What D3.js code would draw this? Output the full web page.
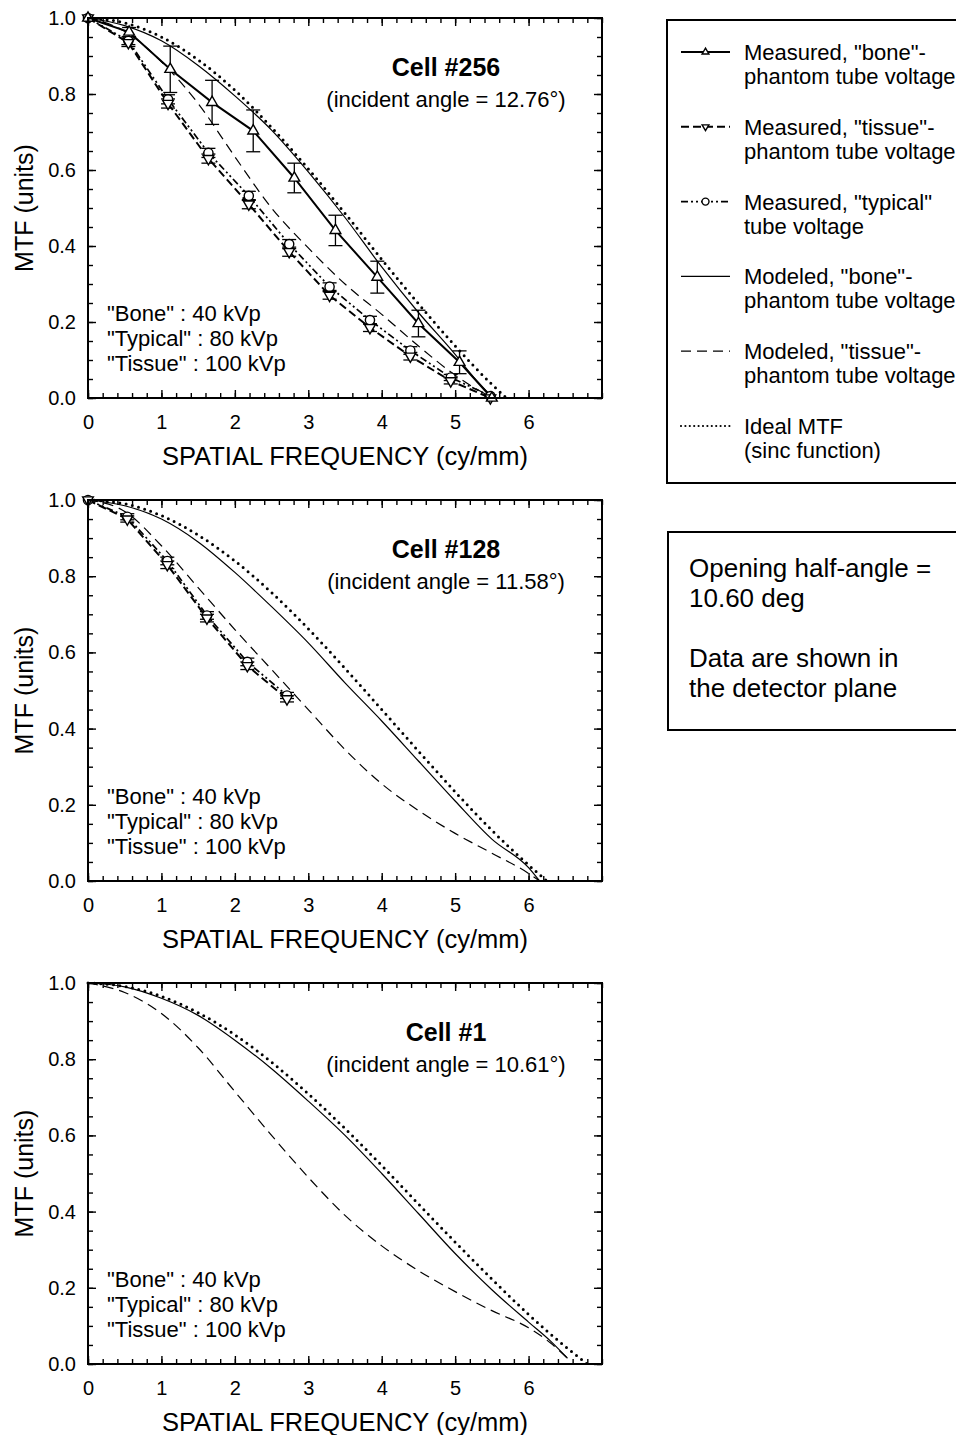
<!DOCTYPE html>
<html>
<head>
<meta charset="utf-8">
<script src="https://cdn.jsdelivr.net/npm/d3@7"></script>
<style>
  body { margin: 0; background: #fff; }
  text { font-family: "Liberation Sans", Arial, sans-serif; fill: #000; }
</style>
</head>
<body>
<svg width="956" height="1435"></svg>
<script>
// ---- Cell #256 ----
var freqBone256 = [0, 0.56, 1.12, 1.69, 2.25, 2.81, 3.37, 3.94, 4.50, 5.06, 5.50];
var mtfBone256 = [1.0, 0.963, 0.865, 0.778, 0.703, 0.579, 0.441, 0.318, 0.196, 0.094, 0.0];
var errBone256 = [0, 0.012, 0.061, 0.058, 0.055, 0.039, 0.040, 0.042, 0.035, 0.030, 0];
var freqMeas256 = [0, 0.55, 1.09, 1.64, 2.19, 2.74, 3.29, 3.84, 4.39, 4.94, 5.48];
var mtfTissue256 = [1.0, 0.935, 0.775, 0.630, 0.510, 0.385, 0.270, 0.185, 0.110, 0.045, 0.0];
var mtfTypical256 = [1.0, 0.940, 0.786, 0.645, 0.532, 0.405, 0.293, 0.205, 0.125, 0.054, 0.005];
var errMeas256 = [0, 0.010, 0.012, 0.012, 0.012, 0.012, 0.010, 0.010, 0.010, 0.008, 0];
var freqModel256 = [0, 0.5, 1, 1.5, 2, 2.5, 3, 3.5, 4, 4.5, 5, 5.25, 5.52];
var modelBone256 = [1, 0.98, 0.94, 0.875, 0.795, 0.705, 0.595, 0.475, 0.345, 0.225, 0.115, 0.055, 0.0];
var modelTissue256 = [1, 0.965, 0.885, 0.775, 0.635, 0.50, 0.395, 0.30, 0.22, 0.137, 0.06, 0.028, 0.0];
var freqIdeal256 = [0, 0.5, 1, 1.5, 2, 2.5, 3, 3.5, 4, 4.5, 5, 5.5, 5.7];
var ideal256 = [1, 0.987, 0.950, 0.890, 0.810, 0.712, 0.603, 0.486, 0.365, 0.248, 0.137, 0.036, 0];

// ---- Cell #128 ----
var freqMeas128 = [0, 0.535, 1.08, 1.62, 2.17, 2.71];
var mtfTissue128 = [1.0, 0.950, 0.830, 0.690, 0.565, 0.478];
var mtfTypical128 = [1.0, 0.956, 0.840, 0.697, 0.575, 0.487];
var errMeas128 = [0, 0.008, 0.010, 0.010, 0.010, 0.008];
var freqModel128 = [0, 0.5, 1, 1.5, 2, 2.5, 3, 3.5, 4, 4.5, 5, 5.5, 6, 6.15];
var modelBone128 = [1, 0.985, 0.95, 0.89, 0.81, 0.72, 0.625, 0.52, 0.42, 0.315, 0.21, 0.11, 0.035, 0];
var modelTissue128 = [1, 0.97, 0.88, 0.77, 0.66, 0.555, 0.45, 0.345, 0.255, 0.185, 0.125, 0.073, 0.02, 0];
var freqIdeal128 = [0, 0.5, 1, 1.5, 2, 2.5, 3, 3.5, 4, 4.5, 5, 5.5, 6, 6.25];
var ideal128 = [1, 0.990, 0.959, 0.908, 0.840, 0.757, 0.662, 0.558, 0.450, 0.341, 0.234, 0.133, 0.042, 0];

// ---- Cell #1 ----
var freqModel1 = [0, 0.5, 1, 1.5, 2, 2.5, 3, 3.5, 4, 4.5, 5, 5.5, 6, 6.3, 6.53];
var modelBone1 = [1, 0.99, 0.96, 0.915, 0.85, 0.775, 0.69, 0.60, 0.50, 0.395, 0.29, 0.195, 0.11, 0.06, 0.015];
var modelTissue1 = [1, 0.975, 0.92, 0.83, 0.715, 0.60, 0.49, 0.39, 0.31, 0.245, 0.19, 0.14, 0.095, 0.055, 0.015];
var freqIdeal1 = [0, 0.5, 1, 1.5, 2, 2.5, 3, 3.5, 4, 4.5, 5, 5.5, 6, 6.5, 6.8];
var ideal1 = [1, 0.991, 0.965, 0.922, 0.864, 0.792, 0.709, 0.618, 0.521, 0.420, 0.320, 0.223, 0.130, 0.046, 0];

var cellNames = ["Cell #256", "Cell #128", "Cell #1"];
var cellAngles = ["(incident angle = 12.76°)", "(incident angle = 11.58°)", "(incident angle = 10.61°)"];
var kvpLabels = ["\"Bone\" : 40 kVp", "\"Typical\" : 80 kVp", "\"Tissue\" : 100 kVp"];
var xTicks = [0, 1, 2, 3, 4, 5, 6];
var yTicks = [0, 0.2, 0.4, 0.6, 0.8, 1.0];

var legendLabels = [
	["Measured, \"bone\"-", "phantom tube voltage"],
	["Measured, \"tissue\"-", "phantom tube voltage"],
	["Measured, \"typical\"", "tube voltage"],
	["Modeled, \"bone\"-", "phantom tube voltage"],
	["Modeled, \"tissue\"-", "phantom tube voltage"],
	["Ideal MTF", "(sinc function)"]
];
var noteLines = ["Opening half-angle =", "10.60 deg", "", "Data are shown in", "the detector plane"];

// line styles
var styles = {
	measBone:    {w: 2,   dash: null,          marker: "up"},
	measTissue:  {w: 2,   dash: "8,4",         marker: "down"},
	measTypical: {w: 1.7, dash: "7,3,2,3,2,3", marker: "circle"},
	modelBone:   {w: 1.2, dash: null},
	modelTissue: {w: 1.2, dash: "10,6"},
	ideal:       {w: 3,   dash: "0,6.4", cap: "round"}
};

function zip(xs, ys, es) {
	return xs.map(function(x, i) { return {f: x, m: ys[i], e: es ? es[i] : 0}; });
}

var panels = [
	{top: 18, bottom: 398,
	 models: [["ideal", zip(freqIdeal256, ideal256)], ["modelBone", zip(freqModel256, modelBone256)], ["modelTissue", zip(freqModel256, modelTissue256)]],
	 meas: [["measTypical", zip(freqMeas256, mtfTypical256, errMeas256)], ["measTissue", zip(freqMeas256, mtfTissue256, errMeas256)], ["measBone", zip(freqBone256, mtfBone256, errBone256)]]},
	{top: 500, bottom: 881,
	 models: [["ideal", zip(freqIdeal128, ideal128)], ["modelBone", zip(freqModel128, modelBone128)], ["modelTissue", zip(freqModel128, modelTissue128)]],
	 meas: [["measTypical", zip(freqMeas128, mtfTypical128, errMeas128)], ["measTissue", zip(freqMeas128, mtfTissue128, errMeas128)]]},
	{top: 983, bottom: 1364,
	 models: [["ideal", zip(freqIdeal1, ideal1)], ["modelBone", zip(freqModel1, modelBone1)], ["modelTissue", zip(freqModel1, modelTissue1)]],
	 meas: []}
];

var svg = d3.select("svg");
var x = d3.scaleLinear().domain([0, 7]).range([88, 602]);

function marker(sel, type, size) {
	if (type === "circle") {
		sel.append("circle").attr("r", size === "small" ? 3.5 : 4.6)
			.attr("fill", "#fff").attr("stroke", "#000").attr("stroke-width", 1.4);
	} else {
		var sym = d3.symbol().type(d3.symbolTriangle).size(size === "small" ? 20 : 50);
		sel.append("path").attr("d", sym)
			.attr("transform", type === "down" ? "rotate(180)" : null)
			.attr("fill", "#fff").attr("stroke", "#000").attr("stroke-width", 1.4);
	}
}

function styleLine(path, s) {
	path.attr("fill", "none").attr("stroke", "#000")
		.attr("stroke-width", s.w)
		.attr("stroke-dasharray", s.dash)
		.attr("stroke-linecap", s.cap || "butt");
}

panels.forEach(function(p, pi) {
	var y = d3.scaleLinear().domain([0, 1]).range([p.bottom, p.top]);
	var g = svg.append("g");

	var smooth = d3.line().curve(d3.curveMonotoneX)
		.x(function(d) { return x(d.f); }).y(function(d) { return y(d.m); });
	var straight = d3.line()
		.x(function(d) { return x(d.f); }).y(function(d) { return y(d.m); });

	p.models.forEach(function(m) {
		styleLine(g.append("path").datum(m[1]).attr("d", smooth), styles[m[0]]);
	});

	p.meas.forEach(function(m) {
		styleLine(g.append("path").datum(m[1]).attr("d", straight), styles[m[0]]);
	});

	p.meas.forEach(function(m) {
		var pts = g.selectAll(null).data(m[1].filter(function(d) { return d.e > 0; })).enter().append("g")
			.attr("stroke", "#000").attr("stroke-width", 1.3);
		pts.append("line").attr("x1", function(d) { return x(d.f); }).attr("x2", function(d) { return x(d.f); })
			.attr("y1", function(d) { return y(d.m + d.e); }).attr("y2", function(d) { return y(d.m - d.e); });
		[1, -1].forEach(function(sgn) {
			pts.append("line")
				.attr("x1", function(d) { return x(d.f) - 7; }).attr("x2", function(d) { return x(d.f) + 7; })
				.attr("y1", function(d) { return y(d.m + sgn * d.e); }).attr("y2", function(d) { return y(d.m + sgn * d.e); });
		});
	});

	p.meas.forEach(function(m) {
		g.selectAll(null).data(m[1]).enter().append("g")
			.attr("transform", function(d) { return "translate(" + x(d.f) + "," + y(d.m) + ")"; })
			.each(function() { marker(d3.select(this), styles[m[0]].marker); });
	});

	// frame
	g.append("rect").attr("x", x(0)).attr("y", p.top)
		.attr("width", x(7) - x(0)).attr("height", p.bottom - p.top)
		.attr("fill", "none").attr("stroke", "#000").attr("stroke-width", 2);

	function axisStyle(a) {
		a.select(".domain").remove();
		a.selectAll("line").attr("stroke-width", 1.4);
		a.selectAll("text").attr("font-size", 20).attr("font-family", "Liberation Sans, Arial, sans-serif");
	}
	var xMinor = d3.range(0, 7.01, 0.2).map(function(v) { return +v.toFixed(1); });
	var yMinor = d3.range(0, 1.001, 0.05).map(function(v) { return +v.toFixed(2); });

	g.append("g").attr("transform", "translate(0," + p.bottom + ")")
		.call(d3.axisBottom(x).tickValues(xTicks).tickSize(-8).tickPadding(17).tickFormat(d3.format("d"))).call(axisStyle);
	g.append("g").attr("transform", "translate(0," + p.bottom + ")")
		.call(d3.axisBottom(x).tickValues(xMinor).tickSize(-5).tickFormat("")).call(axisStyle);
	g.append("g").attr("transform", "translate(0," + p.top + ")")
		.call(d3.axisTop(x).tickValues(xTicks).tickSize(-8).tickFormat("")).call(axisStyle);
	g.append("g").attr("transform", "translate(0," + p.top + ")")
		.call(d3.axisTop(x).tickValues(xMinor).tickSize(-5).tickFormat("")).call(axisStyle);
	g.append("g").attr("transform", "translate(" + x(0) + ",0)")
		.call(d3.axisLeft(y).tickValues(yTicks).tickSize(-8).tickPadding(12).tickFormat(d3.format(".1f"))).call(axisStyle);
	g.append("g").attr("transform", "translate(" + x(0) + ",0)")
		.call(d3.axisLeft(y).tickValues(yMinor).tickSize(-5).tickFormat("")).call(axisStyle);
	g.append("g").attr("transform", "translate(" + x(7) + ",0)")
		.call(d3.axisRight(y).tickValues(yTicks).tickSize(-8).tickFormat("")).call(axisStyle);
	g.append("g").attr("transform", "translate(" + x(7) + ",0)")
		.call(d3.axisRight(y).tickValues(yMinor).tickSize(-5).tickFormat("")).call(axisStyle);

	// titles
	g.append("text").attr("x", (x(0) + x(7)) / 2).attr("y", p.bottom + 67)
		.attr("text-anchor", "middle").attr("font-size", 25.5).text("SPATIAL FREQUENCY (cy/mm)");
	g.append("text").attr("transform", "translate(33," + (p.top + p.bottom) / 2 + ") rotate(-90)")
		.attr("text-anchor", "middle").attr("font-size", 25).text("MTF (units)");

	g.append("text").attr("x", 446).attr("y", p.top + 58)
		.attr("text-anchor", "middle").attr("font-size", 25).attr("font-weight", "bold").text(cellNames[pi]);
	g.append("text").attr("x", 446).attr("y", p.top + 89)
		.attr("text-anchor", "middle").attr("font-size", 22).text(cellAngles[pi]);

	kvpLabels.forEach(function(t, i) {
		g.append("text").attr("x", 107).attr("y", p.bottom - 77 + i * 25)
			.attr("font-size", 22).text(t);
	});
});

// legend
var legend = svg.append("g");
legend.append("rect").attr("x", 667).attr("y", 20).attr("width", 320).attr("height", 463)
	.attr("fill", "none").attr("stroke", "#000").attr("stroke-width", 2);
var legendKeys = ["measBone", "measTissue", "measTypical", "modelBone", "modelTissue", "ideal"];
legendKeys.forEach(function(k, i) {
	var base = 60 + i * 74.8;
	var s = styles[k];
	var ls = k === "ideal" ? {w: 2.2, dash: "0,4.4", cap: "round"} : s;
	styleLine(legend.append("line").attr("x1", 681).attr("x2", 730)
		.attr("y1", base - 8).attr("y2", base - 8), ls);
	if (s.marker) {
		var mg = legend.append("g").attr("transform", "translate(705.5," + (base - 8) + ")");
		marker(mg, s.marker, "small");
	}
	legendLabels[i].forEach(function(t, j) {
		legend.append("text").attr("x", 744).attr("y", base + j * 24)
			.attr("font-size", 22).text(t);
	});
});

// note box
var note = svg.append("g");
note.append("rect").attr("x", 668).attr("y", 532).attr("width", 320).attr("height", 198)
	.attr("fill", "none").attr("stroke", "#000").attr("stroke-width", 2);
noteLines.forEach(function(t, i) {
	note.append("text").attr("x", 689).attr("y", 577 + i * 30).attr("font-size", 26).text(t);
});
</script>
</body>
</html>
